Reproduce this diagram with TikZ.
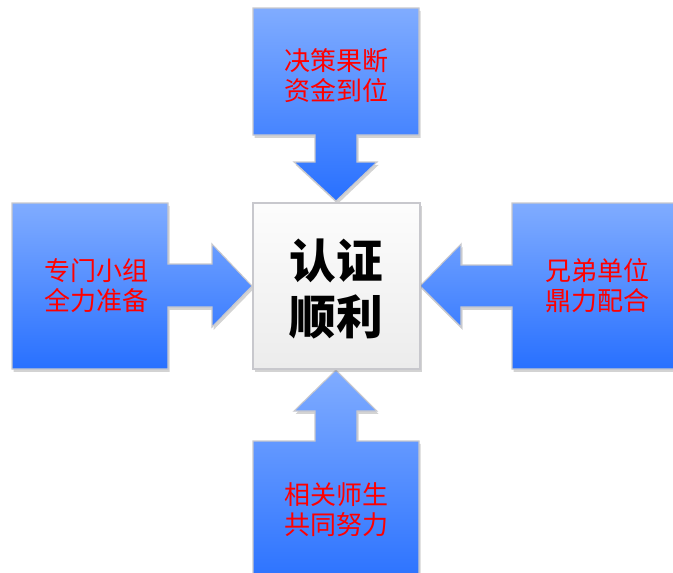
\documentclass[tikz,border=0pt]{standalone}
\usepackage{fontspec}
\newfontfamily\cjk{Noto Sans CJK SC}
\usetikzlibrary{shadows}
\definecolor{bluetop}{RGB}{128,172,255}
\definecolor{bluebot}{RGB}{40,112,255}
\definecolor{edgegray}{RGB}{200,200,205}
\tikzset{
  callout/.style={draw=edgegray, line width=0.8pt, top color=bluetop, bottom color=bluebot,
    drop shadow={opacity=0.35, shadow xshift=1.2pt, shadow yshift=-2.2pt}},
  centerbox/.style={draw=edgegray, line width=0.8pt, top color=white!98!gray, bottom color=white!85!gray,
    drop shadow={opacity=0.35, shadow xshift=1.2pt, shadow yshift=-2.2pt}},
  redtext/.style={text=red, font=\cjk\fontsize{19.5pt}{22.5pt}\selectfont, align=center, inner sep=0pt},
  bigtext/.style={text=black, font=\cjk\bfseries\fontsize{35pt}{42.5pt}\selectfont, align=center, inner sep=0pt}
}
\begin{document}
\begin{tikzpicture}[x=0.75pt, y=-0.75pt]
\useasboundingbox (0,0) rectangle (673,572);
\clip (0,0) rectangle (673,572);
% top callout
\path[callout] (253,8) -- (419,8) -- (419,135) -- (357,135) -- (357,162) -- (377,162) -- (336,201)
  -- (294,162) -- (315,162) -- (315,135) -- (253,135) -- cycle;
% left callout
\path[callout] (12,203) -- (168,203) -- (168,264) -- (212,264) -- (212,244) -- (252,286) -- (212,327)
  -- (212,307) -- (168,307) -- (168,369) -- (12,369) -- cycle;
% right callout
\path[callout] (512,203) -- (690,203) -- (690,369) -- (512,369) -- (512,307) -- (461,307) -- (461,327)
  -- (420,286) -- (461,244) -- (461,265) -- (512,265) -- cycle;
% bottom callout
\path[callout] (253,441) -- (315,441) -- (315,411) -- (294,411) -- (336,370) -- (377,411) -- (357,411)
  -- (357,441) -- (419,441) -- (419,590) -- (253,590) -- cycle;
% center box
\path[centerbox] (253,203) rectangle (420,369);
\node[bigtext] (center) at (336,289) {认证\\顺利};
\node[redtext] (top) at (336,76) {决策果断\\资金到位};
\node[redtext] (left) at (96,286) {专门小组\\全力准备};
\node[redtext] (right) at (597,286) {兄弟单位\\鼎力配合};
\node[redtext] (bottom) at (336,510) {相关师生\\共同努力};
\end{tikzpicture}
\end{document}
